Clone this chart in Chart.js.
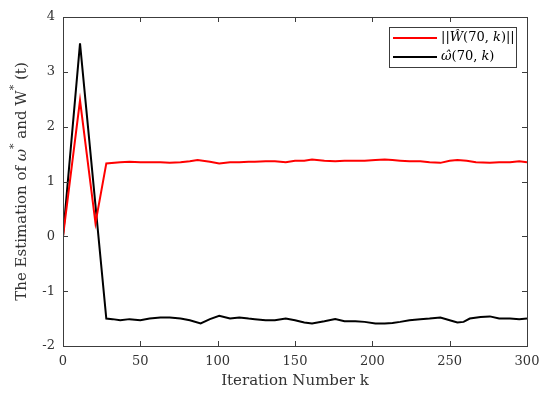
<!DOCTYPE html>
<html><head><meta charset="utf-8">
<script src="https://cdn.jsdelivr.net/npm/chart.js@4/dist/chart.umd.min.js"></script>
<style>html,body{margin:0;padding:0;background:#fff}#c{display:block}</style>
</head><body>
<div style="width:550px;height:397px"><canvas id="c" width="550" height="397"></canvas></div>
<script>
// Data
const kRed = [0, 11, 21, 28, 37, 43, 50, 56, 63, 69, 76, 82, 87, 95, 101, 108, 114, 120, 124, 131, 137, 144, 150, 156, 161, 169, 176, 182, 189, 195, 202, 208, 213, 218, 224, 231, 237, 244, 250, 255, 261, 267, 276, 282, 289, 295, 300];
const redW = [0, 2.48, 0.24, 1.33, 1.35, 1.36, 1.35, 1.35, 1.35, 1.34, 1.35, 1.37, 1.39, 1.36, 1.33, 1.35, 1.35, 1.36, 1.36, 1.37, 1.37, 1.35, 1.38, 1.38, 1.40, 1.38, 1.37, 1.38, 1.38, 1.38, 1.39, 1.40, 1.39, 1.38, 1.37, 1.37, 1.35, 1.34, 1.38, 1.39, 1.38, 1.35, 1.34, 1.35, 1.35, 1.37, 1.35];
const kBlack = [0, 11, 28, 32, 37, 43, 50, 56, 63, 69, 76, 82, 89, 95, 101, 108, 114, 120, 124, 131, 137, 144, 150, 156, 161, 169, 176, 182, 189, 195, 202, 208, 213, 218, 224, 231, 237, 244, 250, 255, 259, 263, 270, 276, 282, 289, 295, 300];
const blackOmega = [0, 3.52, -1.50, -1.51, -1.53, -1.51, -1.53, -1.50, -1.48, -1.48, -1.50, -1.53, -1.59, -1.51, -1.45, -1.50, -1.48, -1.50, -1.51, -1.53, -1.53, -1.50, -1.53, -1.57, -1.59, -1.55, -1.51, -1.55, -1.55, -1.56, -1.59, -1.59, -1.58, -1.56, -1.53, -1.51, -1.50, -1.48, -1.53, -1.57, -1.56, -1.50, -1.47, -1.46, -1.50, -1.50, -1.51, -1.50];
const xTicks = [0, 50, 100, 150, 200, 250, 300];
const yTicks = [-2, -1, 0, 1, 2, 3, 4];
const xTitle = 'Iteration Number k';
const legendLabels = ['||Ŵ(70, k)||', 'ω̂(70, k)'];

const FONT = '"DejaVu Serif", serif';
const AX = '#3c3c3c';
const TXT = '#333333';

const frame = {
  id: 'frame',
  afterDraw(chart) {
    const {ctx, chartArea: a, scales} = chart;
    const xs = scales.x, ys = scales.y;
    ctx.save();
    ctx.strokeStyle = AX; ctx.lineWidth = 1;
    ctx.strokeRect(a.left + 0.5, a.top + 0.5, a.right - a.left, a.bottom - a.top);
    ctx.beginPath();
    xTicks.forEach(v => {
      const px = Math.round(xs.getPixelForValue(v)) + 0.5;
      ctx.moveTo(px, a.bottom); ctx.lineTo(px, a.bottom - 5);
      ctx.moveTo(px, a.top); ctx.lineTo(px, a.top + 5);
    });
    yTicks.forEach(v => {
      const py = Math.round(ys.getPixelForValue(v)) + 0.5;
      ctx.moveTo(a.left, py); ctx.lineTo(a.left + 5, py);
      ctx.moveTo(a.right, py); ctx.lineTo(a.right - 5, py);
    });
    ctx.stroke();

    // x title
    ctx.fillStyle = TXT;
    ctx.font = '15px ' + FONT;
    ctx.textAlign = 'center'; ctx.textBaseline = 'middle';
    ctx.fillText(xTitle, (a.left + a.right) / 2, 381);

    // y title with superscripts
    const parts = [
      ['The Estimation of ', '15px ' + FONT, 0],
      ['ω', 'italic 15px ' + FONT, 0],
      ['*', '11px ' + FONT, -8],
      [' and W', '15px ' + FONT, 0],
      ['*', '11px ' + FONT, -8],
      [' (t)', '15px ' + FONT, 0]
    ];
    ctx.save();
    ctx.translate(22, (a.top + a.bottom) / 2);
    ctx.rotate(-Math.PI / 2);
    let total = 0;
    parts.forEach(p => { ctx.font = p[1]; total += ctx.measureText(p[0]).width; });
    let x0 = -total / 2;
    ctx.textAlign = 'left'; ctx.textBaseline = 'middle';
    parts.forEach(p => { ctx.font = p[1]; ctx.fillText(p[0], x0, p[2]); x0 += ctx.measureText(p[0]).width; });
    ctx.restore();

    // legend
    const lx = 389, ly = 27, lw = 127, lh = 40;
    ctx.fillStyle = '#fff';
    ctx.fillRect(lx, ly, lw, lh);
    ctx.strokeStyle = AX; ctx.lineWidth = 1;
    ctx.strokeRect(lx + 0.5, ly + 0.5, lw, lh);
    const rows = [
      {color: '#ff0000', y: 38, segs: [['||', false], ['Ŵ', true], ['(70, ', false], ['k', true], [')||', false]]},
      {color: '#000000', y: 57, segs: [['ω̂', true], ['(70, ', false], ['k', true], [')', false]]}
    ];
    rows.forEach(r => {
      ctx.strokeStyle = r.color; ctx.lineWidth = 2;
      ctx.beginPath(); ctx.moveTo(393, r.y); ctx.lineTo(437, r.y); ctx.stroke();
      let tx = 441;
      ctx.fillStyle = '#000'; ctx.textAlign = 'left'; ctx.textBaseline = 'middle';
      r.segs.forEach(s => {
        ctx.font = (s[1] ? 'italic ' : '') + '13px ' + FONT;
        ctx.fillText(s[0], tx, r.y);
        tx += ctx.measureText(s[0]).width;
      });
    });
    ctx.restore();
  }
};

new Chart(document.getElementById('c'), {
  type: 'line',
  data: {
    datasets: [
      {label: legendLabels[0], data: kRed.map((k, i) => ({x: k, y: redW[i]})), borderColor: '#ff0000', borderWidth: 2, pointRadius: 0, tension: 0, fill: false},
      {label: legendLabels[1], data: kBlack.map((k, i) => ({x: k, y: blackOmega[i]})), borderColor: '#000000', borderWidth: 2, pointRadius: 0, tension: 0, fill: false}
    ]
  },
  options: {
    responsive: false, animation: false,
    layout: {padding: {top: 17, right: 23, left: 0, bottom: 0}},
    plugins: {legend: {display: false}, tooltip: {enabled: false}},
    scales: {
      x: {
        type: 'linear', min: 0, max: 300,
        afterBuildTicks: s => { s.ticks = xTicks.map(v => ({value: v})); },
        afterFit: s => { s.height = 51; },
        grid: {display: false, drawTicks: false}, border: {display: false},
        ticks: {padding: 8, color: TXT, font: {family: FONT, size: 13}, maxRotation: 0}
      },
      y: {
        type: 'linear', min: -2, max: 4,
        afterBuildTicks: s => { s.ticks = yTicks.map(v => ({value: v})); },
        afterFit: s => { s.width = 63; },
        grid: {display: false, drawTicks: false}, border: {display: false},
        ticks: {padding: 8, color: TXT, font: {family: FONT, size: 13}}
      }
    }
  },
  plugins: [frame]
});
</script>
</body></html>
